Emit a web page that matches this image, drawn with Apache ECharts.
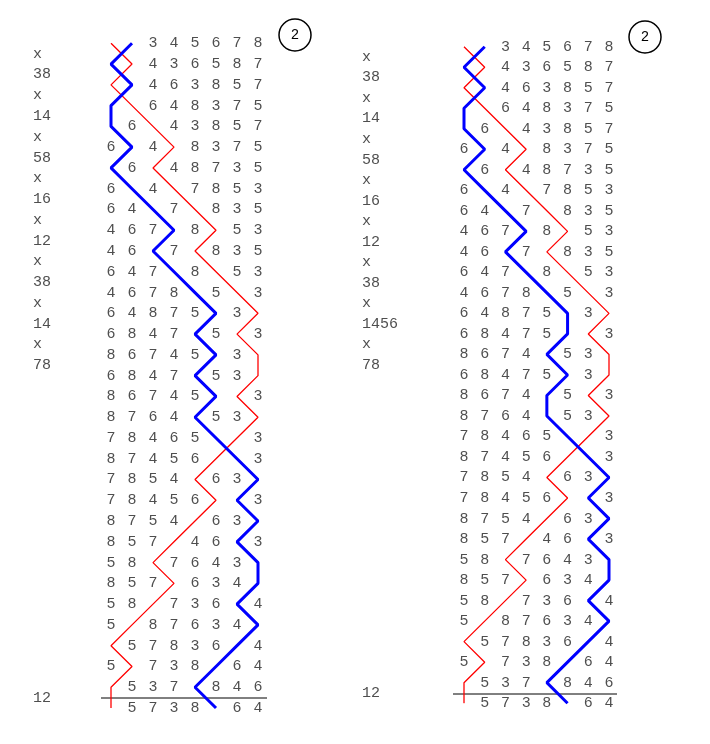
<!DOCTYPE html>
<html><head><meta charset="utf-8">
<script src="https://cdn.jsdelivr.net/npm/echarts@6/dist/echarts.min.js"></script>
<style>html,body{margin:0;padding:0;background:#fff}#c{width:710px;height:744px}</style>
</head><body><div id="c"></div>
<script>
const rowsLeft = ["12345678","21436587","12463857","21648375","26143857","62418375","26148735","62417853","64271835","46728153","46271835","64728153","46782513","64875231","68472513","86745231","68472531","86745213","87642531","78465213","87456123","78541632","78456123","87541632","85714623","58176432","85716342","58173624","51876342","15783624","51738264","15372846","15738264"];
const rowsRight = rowsLeft.slice();
rowsRight[14]="68475213"; rowsRight[15]="86742531"; rowsRight[16]="68475231"; rowsRight[17]="86742513";
const notationLeft = ["x","38","x","14","x","58","x","16","x","12","x","38","x","14","x","78"];
const notationRight = ["x","38","x","14","x","58","x","16","x","12","x","38","x","1456","x","78"];
const leadEnd = "12";
const leadHead = "2";

const FONT = "'Liberation Mono', 'DejaVu Sans Mono', monospace";
const grids = [
  {left:111, width:147, top:43.3, height:664.7},
  {left:464, width:145, top:46.7, height:656.5}
];
function build(rows, notation, gi, labOff) {
  const digits = [], red = [], blue = [];
  rows.forEach((r, i) => {
    for (let p = 0; p < 8; p++) {
      const c = r[p];
      if (c === '1') red.push([p+1, i]);
      else if (c === '2') blue.push([p+1, i]);
      else digits.push([p+1, i, c]);
    }
  });
  const notes = notation.map((n, k) => [1, k + 0.5, n]);
  notes.push([1, rows.length - 1.5, leadEnd]);
  const base = {xAxisIndex: gi, yAxisIndex: gi, silent: true, animation: false};
  return [
    Object.assign({type:'line', data: red, symbol:'none', lineStyle:{color:'#ff0000', width:1.3}, z:2}, base),
    Object.assign({type:'line', data: blue, symbol:'none', lineStyle:{color:'#0000ff', width:3}, z:3}, base),
    Object.assign({type:'scatter', data: digits, symbolSize: 0, z:4,
      label:{show:true, position:'inside', formatter: p => p.data[2], color:'#222', fontSize:15, fontFamily:FONT}}, base),
    Object.assign({type:'scatter', data: notes, symbolSize: 0, z:4,
      label:{show:true, position:'inside', offset:[labOff, 0], align:'left', formatter: p => p.data[2], color:'#222', fontSize:15, fontFamily:FONT}}, base)
  ];
}
const chart = echarts.init(document.getElementById('c'));
const xAxes = grids.map((g, i) => ({type:'value', gridIndex:i, min:1, max:8, show:false}));
const yAxes = grids.map((g, i) => ({type:'value', gridIndex:i, min:0, max:32, inverse:true, show:false}));
chart.setOption({
  animation:false,
  grid: grids,
  xAxis: xAxes, yAxis: yAxes,
  series: [...build(rowsLeft, notationLeft, 0, -78), ...build(rowsRight, notationRight, 1, -102)],
  graphic: [
    {type:'circle', shape:{cx:295, cy:35, r:16}, style:{fill:'#fff', stroke:'#000', lineWidth:1.5}},
    {type:'text', x:295, y:35, style:{text:leadHead, font:"14px "+FONT, fill:'#000', align:'center', verticalAlign:'middle'}},
    {type:'circle', shape:{cx:645, cy:37, r:16}, style:{fill:'#fff', stroke:'#000', lineWidth:1.5}},
    {type:'text', x:645, y:37, style:{text:leadHead, font:"14px "+FONT, fill:'#000', align:'center', verticalAlign:'middle'}},
    {type:'line', shape:{x1:101, y1:698, x2:267, y2:698}, style:{stroke:'#000', lineWidth:1}},
    {type:'line', shape:{x1:453, y1:694, x2:617, y2:694}, style:{stroke:'#000', lineWidth:1}}
  ]
});
</script></body></html>
